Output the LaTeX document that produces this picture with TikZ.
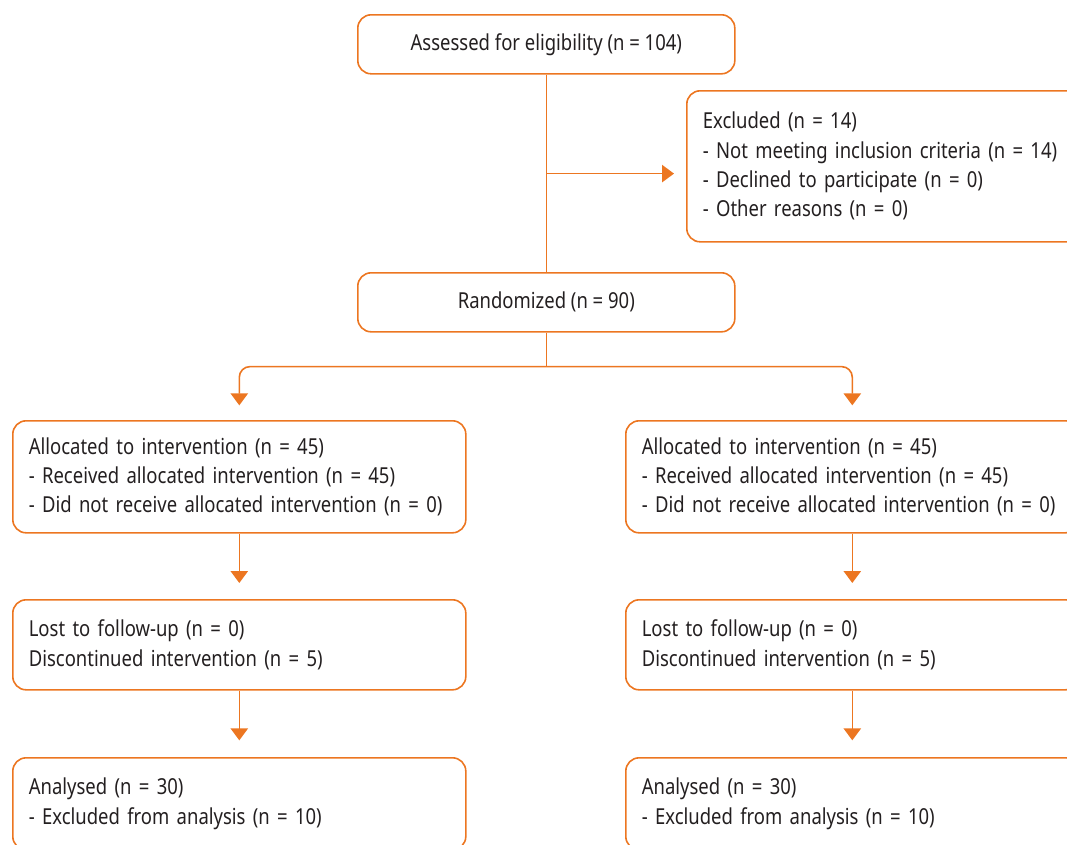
\documentclass[tikz,border=0pt]{standalone}
\usepackage{fontspec}
\setmainfont{Noto Sans}[FakeStretch=0.84]
\usetikzlibrary{arrows.meta}
\definecolor{orng}{RGB}{236,118,33}
\definecolor{txt}{RGB}{35,31,32}
\tikzset{
  box/.style={draw=orng, line width=1.2pt, rounded corners=10pt, text=txt,
    font=\fontsize{16.5}{22}\selectfont, inner xsep=12pt, inner ysep=0pt, anchor=north west},
  topbox/.style={box, minimum width=282.75pt, minimum height=44.25pt, align=center},
  sidebox/.style={box, text width=315.75pt, align=left},
  arr/.style={draw=orng, line width=1.2pt, -{Triangle[width=13pt,length=9pt]}},
  ln/.style={draw=orng, line width=1.2pt}
}
\begin{document}
\begin{tikzpicture}[x=0.75pt,y=-0.75pt]
\clip (0,0) rectangle (1067,844);
\node[topbox] (assess) at (357,14) {Assessed for eligibility (n = 104)};
\node[box, text width=290pt, align=left, minimum height=113.25pt] (excl) at (686,90)
  {Excluded (n = 14)\\- Not meeting inclusion criteria (n = 14)\\- Declined to participate (n = 0)\\- Other reasons (n = 0)};
\node[topbox] (rand) at (357,272) {Randomized (n = 90)};
\node[sidebox, minimum height=84pt] (allocL) at (12,420)
  {Allocated to intervention (n = 45)\\- Received allocated intervention (n = 45)\\- Did not receive allocated intervention (n = 0)};
\node[sidebox, minimum height=84pt] (allocR) at (625,420)
  {Allocated to intervention (n = 45)\\- Received allocated intervention (n = 45)\\- Did not receive allocated intervention (n = 0)};
\node[sidebox, minimum height=67.5pt] (lostL) at (12,599)
  {Lost to follow-up (n = 0)\\Discontinued intervention (n = 5)};
\node[sidebox, minimum height=67.5pt] (lostR) at (625,599)
  {Lost to follow-up (n = 0)\\Discontinued intervention (n = 5)};
\node[sidebox, minimum height=69pt] (anaL) at (12,757)
  {Analysed (n = 30)\\- Excluded from analysis (n = 10)};
\node[sidebox, minimum height=69pt] (anaR) at (625,757)
  {Analysed (n = 30)\\- Excluded from analysis (n = 10)};
\coordinate (branch) at ([yshift=-74.25pt] assess.south);
\coordinate (split) at ([yshift=-25.5pt] rand.south);
\draw[ln] (assess.south) -- (rand.north);
\draw[arr, shorten >=9pt] (branch) -- (excl.west |- branch);
\draw[ln] (rand.south) -- (split);
\draw[arr, rounded corners=8pt, shorten >=11pt] (split) -| (allocL.north);
\draw[arr, rounded corners=8pt, shorten >=11pt] (split) -| (allocR.north);
\draw[arr, shorten >=12pt] (allocL.south) -- (lostL.north);
\draw[arr, shorten >=12pt] (allocR.south) -- (lostR.north);
\draw[arr, shorten >=12.5pt] (lostL.south) -- (anaL.north);
\draw[arr, shorten >=12.5pt] (lostR.south) -- (anaR.north);
\end{tikzpicture}
\end{document}
